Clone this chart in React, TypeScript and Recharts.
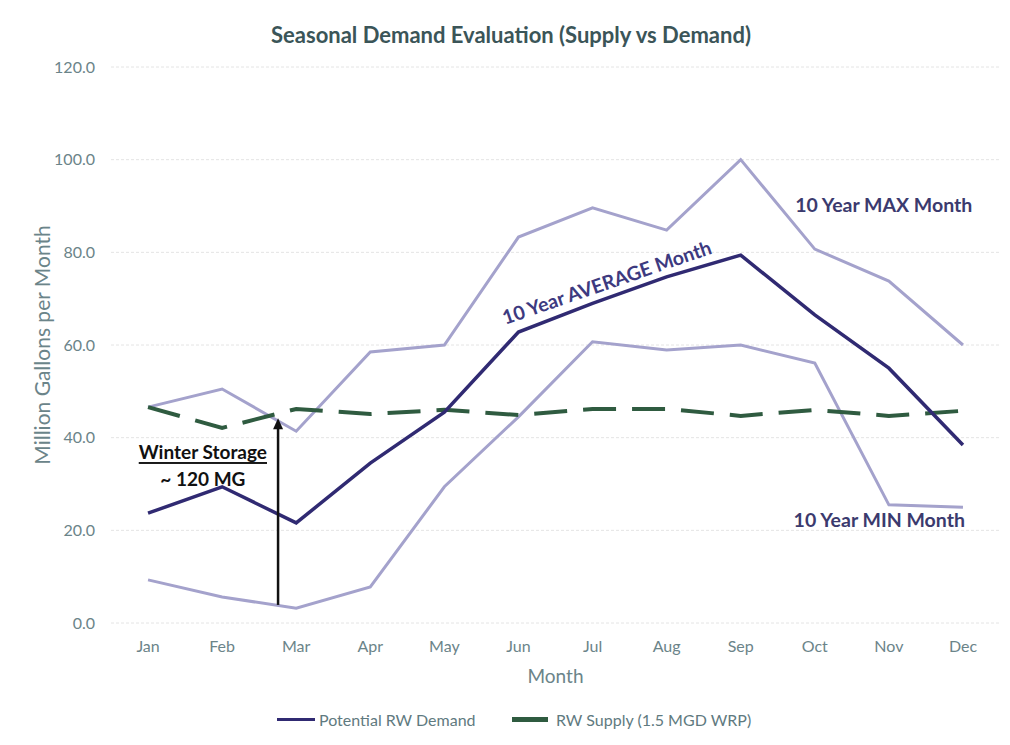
import {
  LineChart,
  Line,
  XAxis,
  YAxis,
  CartesianGrid,
  ReferenceDot,
  ReferenceLine,
} from "recharts";

const months = ["Jan", "Feb", "Mar", "Apr", "May", "Jun", "Jul", "Aug", "Sep", "Oct", "Nov", "Dec"];
const maxMonth = [46.6, 50.5, 41.4, 58.5, 60.0, 83.3, 89.6, 84.8, 100.0, 80.7, 73.8, 60.0];
const avgMonth = [23.7, 29.4, 21.6, 34.5, 45.5, 62.8, 69.0, 74.7, 79.4, 66.5, 55.0, 38.4];
const minMonth = [9.3, 5.6, 3.2, 7.8, 29.4, 44.5, 60.7, 58.9, 60.0, 56.1, 25.5, 25.0];
const supply = [46.6, 42.1, 46.2, 45.1, 46.0, 44.9, 46.2, 46.2, 44.7, 46.0, 44.7, 45.8];
const yTicks = [0, 20, 40, 60, 80, 100, 120];

const FONT = "Lato, 'Open Sans', sans-serif";
const TICK = "#6b8489";
const LABEL = "#3b3a6e";
const LIGHT = "#a4a2cc";
const AVG = "#302a72";
const SUPPLY = "#2f5b40";

const data = months.map((m, i) => ({
  i,
  month: m,
  max: maxMonth[i],
  avg: avgMonth[i],
  min: minMonth[i],
  supply: supply[i],
}));

function textAt(lines: { text: string; dy?: number; underline?: boolean }[], color: string, size: number, angle = 0) {
  return (p: any) => (
    <g transform={`translate(${p.cx},${p.cy}) rotate(${angle})`}>
      {lines.map((l, k) => (
        <text
          key={k}
          x={0}
          y={l.dy ?? 0}
          textAnchor="middle"
          dominantBaseline="central"
          fill={color}
          fontSize={size}
          fontWeight={700}
          fontFamily={FONT}
          textDecoration={l.underline ? "underline" : undefined}
        >
          {l.text}
        </text>
      ))}
    </g>
  );
}

function Arrow(p: any) {
  const { x1, y1, x2, y2 } = p;
  const top = Math.min(y1, y2);
  const bot = Math.max(y1, y2);
  const x = x1;
  return (
    <g>
      <line x1={x} y1={bot} x2={x} y2={top + 8} stroke="#111" strokeWidth={2.5} />
      <polygon points={`${x},${top} ${x - 5},${top + 11} ${x + 5},${top + 11}`} fill="#111" />
    </g>
  );
}

export default function App() {
  return (
    <div
      style={{
        position: "absolute",
        left: 0,
        top: 0,
        width: 1010,
        height: 745,
        background: "#fff",
        fontFamily: FONT,
      }}
    >
      <div
        style={{
          position: "absolute",
          top: 21,
          left: 0,
          width: 1022,
          textAlign: "center",
          fontSize: 22,
          fontWeight: 700,
          color: "#3b5558",
        }}
      >
        Seasonal Demand Evaluation (Supply vs Demand)
      </div>
      <LineChart
        width={1010}
        height={745}
        data={data}
        margin={{ top: 67, right: 10, bottom: 82, left: 0 }}
      >
        <CartesianGrid stroke="#e4e4e4" strokeDasharray="3 2" vertical={false} />
        <XAxis
          dataKey="i"
          type="number"
          domain={[-0.5, 11.5]}
          ticks={months.map((_, i) => i)}
          tickFormatter={(v) => months[v] ?? ""}
          axisLine={false}
          tickLine={false}
          tickMargin={12}
          height={40}
          tick={{ fill: TICK, fontSize: 16, fontFamily: FONT }}
          label={{ value: "Month", position: "bottom", offset: 7, fill: TICK, fontSize: 19, fontFamily: FONT }}
        />
        <YAxis
          domain={[0, 120]}
          ticks={yTicks}
          width={111}
          axisLine={false}
          tickLine={false}
          tickMargin={10}
          tickFormatter={(v) => Number(v).toFixed(1)}
          tick={{ fill: TICK, fontSize: 16, fontFamily: FONT }}
          label={{
            value: "Million Gallons per Month",
            angle: -90,
            position: "center",
            dx: -13,
            fill: TICK,
            fontSize: 21,
            fontFamily: FONT,
          }}
        />
        <Line dataKey="max" stroke={LIGHT} strokeWidth={3} dot={false} isAnimationActive={false} />
        <Line dataKey="min" stroke={LIGHT} strokeWidth={3} dot={false} isAnimationActive={false} />
        <Line
          dataKey="supply"
          stroke={SUPPLY}
          strokeWidth={4}
          strokeDasharray="33 16"
          dot={false}
          isAnimationActive={false}
        />
        <Line dataKey="avg" stroke={AVG} strokeWidth={3.5} dot={false} isAnimationActive={false} />
        <ReferenceLine
          segment={[
            { x: 1.755, y: 3.9 },
            { x: 1.755, y: 44.2 },
          ]}
          shape={Arrow}
        />
        <ReferenceDot x={9.93} y={90.4} r={0} shape={textAt([{ text: "10 Year MAX Month" }], LABEL, 19.5)} />
        <ReferenceDot x={9.87} y={22.4} r={0} shape={textAt([{ text: "10 Year MIN Month" }], LABEL, 19.5)} />
        <ReferenceDot
          x={6.19}
          y={73.6}
          r={0}
          shape={textAt([{ text: "10 Year AVERAGE Month" }], "#3d3a80", 19.5, -19)}
        />
        <ReferenceDot
          x={0.74}
          y={34.2}
          r={0}
          shape={textAt(
            [
              { text: "Winter Storage", dy: -13, underline: true },
              { text: "~ 120 MG", dy: 14 },
            ],
            "#111",
            19
          )}
        />
      </LineChart>
      <div
        style={{
          position: "absolute",
          top: 710,
          left: 277,
          display: "flex",
          fontSize: 16,
          color: "#5f7a80",
          whiteSpace: "nowrap",
        }}
      >
        <span style={{ display: "flex", alignItems: "center", width: 235 }}>
          <span style={{ display: "inline-block", width: 38, height: 3.5, background: AVG, marginRight: 4 }} />
          Potential RW Demand
        </span>
        <span style={{ display: "flex", alignItems: "center" }}>
          <span style={{ display: "inline-block", width: 36, height: 4.5, background: SUPPLY, marginRight: 8 }} />
          RW Supply (1.5 MGD WRP)
        </span>
      </div>
    </div>
  );
}
